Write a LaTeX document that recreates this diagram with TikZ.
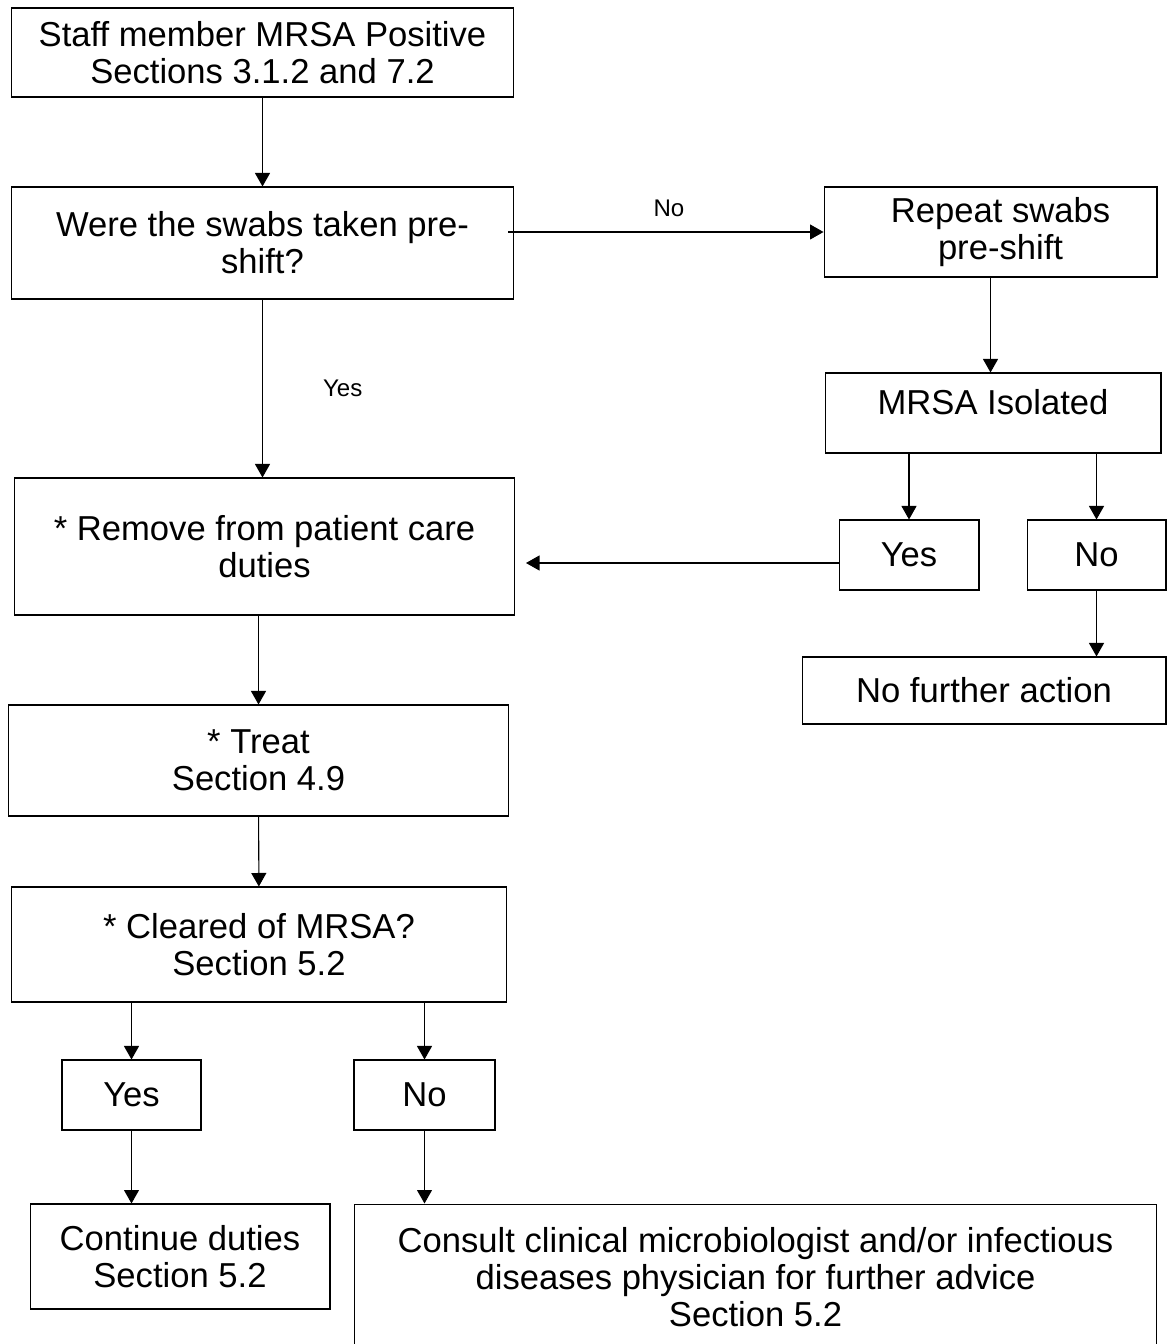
\documentclass[tikz,border=0pt]{standalone}
\usepackage{fontspec}
\setmainfont{Liberation Sans}
\usepackage{tikz}
\usetikzlibrary{positioning}
\usetikzlibrary{arrows.meta}

\begin{document}
\begin{tikzpicture}[x=0.02cm, y=-0.02cm,
		stepbox/.style={draw, line width=0.6pt, align=center, inner sep=0pt, font=\fontsize{19.7}{21}\selectfont},
		flow/.style={-{Triangle[length=0.27cm,width=0.30cm]}, line width=0.6pt},
		answer/.style={inner sep=0pt, font=\fontsize{13.7}{15}\selectfont}]
			\useasboundingbox[fill=white] (0,0) rectangle (1167,1344);
			\node[stepbox, minimum width=10.06cm, minimum height=1.78cm] (Positive) at (262.5,52.5) {Staff member MRSA Positive\\Sections 3.1.2 and 7.2};
			\node[stepbox, minimum width=10.06cm, minimum height=2.24cm] (Preshift) at (262.5,243) {Were the swabs taken pre-\\shift?};
			\node[stepbox, minimum width=6.66cm, minimum height=1.80cm] (Repeat) at (990.5,232) {\hspace*{0.4cm}Repeat swabs\\\hspace*{0.4cm}pre-shift};
			\node[stepbox, minimum width=6.72cm, minimum height=1.60cm] (Isolated) at (993,413) {MRSA Isolated\\[-0.3cm]};
			\node[stepbox, minimum width=2.80cm, minimum height=1.40cm] (IsoYes) at (909,555) {Yes};
			\node[stepbox, minimum width=2.78cm, minimum height=1.40cm] (IsoNo) at (1096.5,555) {No};
			\node[stepbox, minimum width=7.28cm, minimum height=1.34cm] (NoAction) at (984,690.5) {No further action};
			\node[stepbox, minimum width=10.02cm, minimum height=2.74cm] (Remove) at (264.5,546.5) {* Remove from patient care\\duties};
			\node[stepbox, minimum width=10.02cm, minimum height=2.22cm] (Treat) at (258.5,760.5) {* Treat\\Section 4.9};
			\node[stepbox, minimum width=9.92cm, minimum height=2.30cm] (Cleared) at (259,944.5) {* Cleared of MRSA?\\Section 5.2};
			\node[stepbox, minimum width=2.78cm, minimum height=1.40cm] (ClearYes) at (131.5,1095) {Yes};
			\node[stepbox, minimum width=2.82cm, minimum height=1.40cm] (ClearNo) at (424.5,1095) {No};
			\node[stepbox, minimum width=6.00cm, minimum height=2.10cm] (Continue) at (180,1256.5) {Continue duties\\Section 5.2};
			\node[stepbox, minimum width=16.06cm, minimum height=2.92cm] (Consult) at (755.5,1277) {Consult clinical microbiologist and/or infectious\\diseases physician for further advice\\Section 5.2};
			\coordinate (YesTip) at (526,563);
			\draw[flow] (Positive) -- (Preshift);
			\draw[flow, shorten <=-0.12cm] (Preshift.east |- Repeat.west) -- node[answer, above=0.3cm] {No} (Repeat.west);
			\draw[flow] (Preshift.south) -- node[answer, right=1.2cm] {Yes} (Preshift.south |- Remove.north);
			\draw[flow] (Repeat) -- (Repeat.south |- Isolated.north);
			\draw[flow] (Isolated.south -| IsoYes.north) -- (IsoYes.north);
			\draw[flow] (Isolated.south -| IsoNo.north) -- (IsoNo.north);
			\draw[flow] (IsoNo) -- (IsoNo.south |- NoAction.north);
			\draw[flow] (IsoYes.west |- YesTip) -- (YesTip);
			\draw[flow] (Remove.south -| Treat.north) -- (Treat.north);
			\draw[flow] (Treat) -- (Cleared);
			\draw[flow] (Cleared.south -| ClearYes.north) -- (ClearYes.north);
			\draw[flow] (Cleared.south -| ClearNo.north) -- (ClearNo.north);
			\draw[flow] (ClearYes.south) -- (ClearYes.south |- Continue.north);
			\draw[flow] (ClearNo.south) -- (ClearNo.south |- Consult.north);
		\end{tikzpicture}
\end{document}
